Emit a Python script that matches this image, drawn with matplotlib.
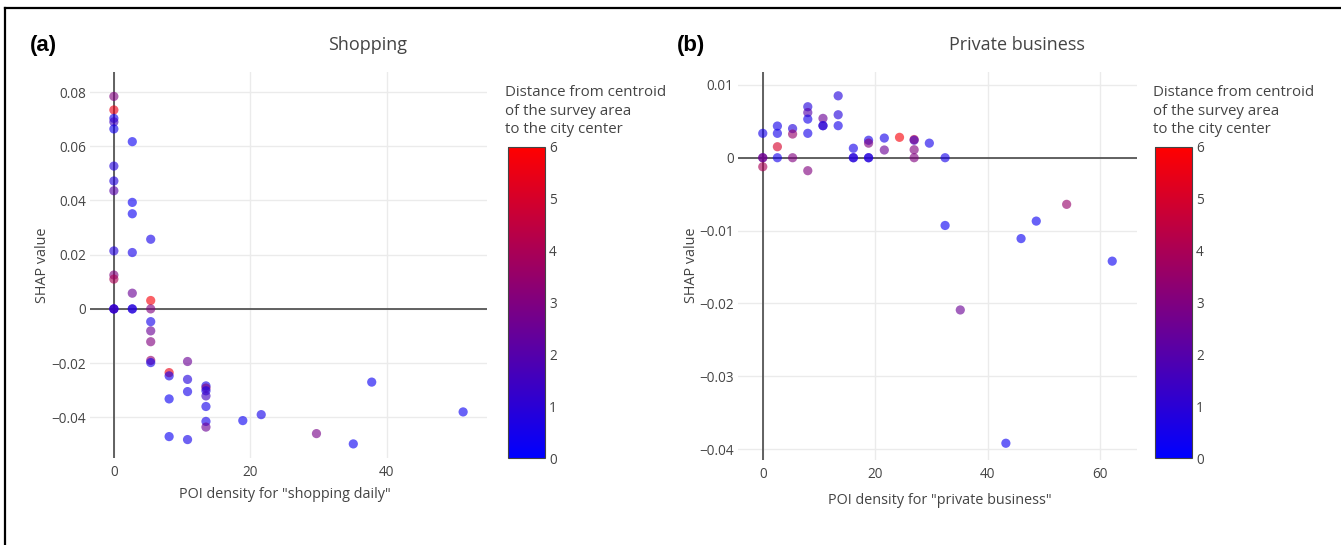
import matplotlib
matplotlib.use("Agg")
import matplotlib.pyplot as plt
import numpy as np
from matplotlib.colors import LinearSegmentedColormap
from matplotlib.lines import Line2D

# ---------------- data ----------------
# Panel (a) Shopping
xa = [0, 0, 0, 0, 0, 0, 0, 0, 0, 0, 0, 0, 0, 0,
      2.7, 2.7, 2.7, 2.7, 2.7, 2.7, 2.7,
      5.4, 5.4, 5.4, 5.4, 5.4, 5.4, 5.4, 5.4,
      8.1, 8.1, 8.1, 8.1,
      10.8, 10.8, 10.8, 10.8,
      13.5, 13.5, 13.5, 13.5, 13.5, 13.5, 13.5,
      18.9, 21.6, 29.7, 35.1, 37.8, 51.2]
ya = [0.0784, 0.0734, 0.0703, 0.069, 0.0664, 0.0527, 0.0472, 0.0436, 0.0214, 0.0125, 0.011, 0, 0, 0,
      0.0617, 0.0393, 0.0351, 0.0208, 0.0058, 0, 0,
      0.0257, 0.0031, 0, -0.0047, -0.0081, -0.0121, -0.019, -0.0198,
      -0.0235, -0.0247, -0.0332, -0.0471,
      -0.0194, -0.026, -0.0305, -0.0482,
      -0.0284, -0.0292, -0.0302, -0.0321, -0.036, -0.0415, -0.0436,
      -0.0412, -0.039, -0.046, -0.0498, -0.027, -0.038]
ca = [3.0, 5.5, 0.5, 1.5, 0.4, 0.8, 0.8, 2.0, 0.8, 3.0, 4.0, 0.5, 1.0, 1.5,
      0.3, 0.3, 0.3, 0.5, 2.5, 0.5, 1.0,
      0.5, 5.8, 3.0, 0.5, 2.5, 3.0, 3.5, 0.5,
      5.5, 0.5, 0.3, 0.3,
      2.5, 0.8, 0.5, 0.5,
      0.5, 3.0, 0.5, 1.5, 0.5, 0.5, 2.5,
      0.3, 0.5, 2.8, 0.3, 0.3, 0.3]

# Panel (b) Private business
xb = [0, 0, 0, 0,
      2.6, 2.6, 2.6, 2.6,
      5.3, 5.3, 5.3,
      8.0, 8.0, 8.0, 8.0, 8.0,
      10.7, 10.7, 10.7,
      13.4, 13.4, 13.4,
      16.1, 16.1, 16.1,
      18.8, 18.8, 18.8, 18.8,
      21.6, 21.6,
      24.3,
      26.9, 26.9, 26.9, 26.9,
      29.6, 32.4, 32.4, 35.1, 43.2, 45.9, 48.6, 54.0, 62.1]
yb = [0.00335, 0, 0, -0.00124,
      0.00435, 0.00335, 0.00151, 0,
      0.0040, 0.00325, 0,
      0.0070, 0.0062, 0.0053, 0.00335, -0.00178,
      0.0054, 0.0044, 0.0044,
      0.0085, 0.0059, 0.0044,
      0.0013, 0, 0,
      0.0024, 0.0020, 0, 0,
      0.0027, 0.00106,
      0.0028,
      0.0025, 0.0024, 0.0011, 0,
      0.0020, 0, -0.0093, -0.0209, -0.0392, -0.0111, -0.0087, -0.0064, -0.0142]
cb = [0.5, 1.5, 3.0, 4.0,
      0.5, 0.5, 5.0, 0.5,
      0.8, 3.5, 3.0,
      0.8, 2.0, 0.5, 0.5, 3.0,
      2.5, 0.5, 1.2,
      0.8, 0.8, 0.5,
      0.5, 0.5, 1.0,
      0.5, 3.0, 0.5, 1.0,
      0.5, 2.5,
      5.8,
      4.5, 1.5, 3.0, 3.0,
      0.5, 0.5, 0.3, 2.5, 0.3, 0.3, 0.3, 3.5, 0.3]

panel_labels = ["(a)", "(b)"]
titles = ["Shopping", "Private business"]
xlabels = ['POI density for "shopping daily"', 'POI density for "private business"']
ylabel = "SHAP value"
cbar_title = "Distance from centroid\nof the survey area\nto the city center"
cbar_ticks = [0, 1, 2, 3, 4, 5, 6]

xticks_a = [0, 20, 40]
yticks_a = [-0.04, -0.02, 0, 0.02, 0.04, 0.06, 0.08]
yticklabels_a = ["\u22120.04", "\u22120.02", "0", "0.02", "0.04", "0.06", "0.08"]
xticks_b = [0, 20, 40, 60]
yticks_b = [-0.04, -0.03, -0.02, -0.01, 0, 0.01]
yticklabels_b = ["\u22120.04", "\u22120.03", "\u22120.02", "\u22120.01", "0", "0.01"]

# ---------------- style ----------------
W, H = 1341, 545
FONT = "Open Sans"
TXT = "#444444"
cmap = LinearSegmentedColormap.from_list("br", [(0, 0, 1), (1, 0, 0)])

fig = plt.figure(figsize=(W / 100, H / 100), dpi=100)

def box(l, t, r, b):
    return [l / W, 1 - b / H, (r - l) / W, (b - t) / H]

def fx(px):
    return px / W

def fy(py):
    return 1 - py / H

# border lines (left & top)
fig.add_artist(Line2D([fx(5), fx(5)], [fy(8), fy(545)], color="black", lw=1.6))
fig.add_artist(Line2D([fx(5), fx(1341)], [fy(8), fy(8)], color="black", lw=1.6))

panels = [
    dict(x=xa, y=ya, c=ca, ax=box(90, 72, 487, 458), cax=box(508, 147, 545, 458),
         xlim=(-3.5, 54.7), ylim=(-0.055, 0.0874), xt=xticks_a, yt=yticks_a, ytl=yticklabels_a,
         lab=(30, 45), title=(368, 45), xlab=(285, 494), ylab=(42, 265), ctitle=(505, 111)),
    dict(x=xb, y=yb, c=cb, ax=box(738, 72, 1137, 460), cax=box(1155, 147, 1192, 458),
         xlim=(-4.4, 66.5), ylim=(-0.0415, 0.01177), xt=xticks_b, yt=yticks_b, ytl=yticklabels_b,
         lab=(677, 45), title=(1017, 45), xlab=(940, 500), ylab=(692, 265), ctitle=(1153, 111)),
]

for i, p in enumerate(panels):
    ax = fig.add_axes(p["ax"])
    ax.set_xlim(*p["xlim"])
    ax.set_ylim(*p["ylim"])
    for s in ax.spines.values():
        s.set_visible(False)
    ax.set_xticks(p["xt"])
    ax.set_xticklabels([str(v) for v in p["xt"]])
    ax.set_yticks(p["yt"])
    ax.set_yticklabels(p["ytl"])
    ax.tick_params(length=0, labelsize=9.8, labelcolor=TXT)
    ax.tick_params(axis="y", pad=3)
    ax.tick_params(axis="x", pad=5)
    for lbl in ax.get_xticklabels() + ax.get_yticklabels():
        lbl.set_fontfamily(FONT)
    ax.grid(True, color="#ebebeb", lw=1.0)
    ax.set_axisbelow(True)
    ax.axhline(0, color="#555555", lw=1.3, zorder=1)
    ax.axvline(0, color="#555555", lw=1.3, zorder=1)
    sc = ax.scatter(p["x"], p["y"], c=p["c"], cmap=cmap, vmin=0, vmax=6, s=44,
                    alpha=0.62, edgecolors="none", zorder=3)

    cax = fig.add_axes(p["cax"])
    cbar = fig.colorbar(sc, cax=cax, ticks=cbar_ticks)
    cbar.solids.set_alpha(1)
    cbar.outline.set_edgecolor(TXT)
    cbar.outline.set_linewidth(0.8)
    cax.tick_params(length=0, labelsize=9.8, labelcolor=TXT, pad=3)
    for lbl in cax.get_yticklabels():
        lbl.set_fontfamily(FONT)

    fig.text(fx(p["ctitle"][0]), fy(p["ctitle"][1]), cbar_title, ha="left", va="center",
             fontsize=10.8, color=TXT, family=FONT, linespacing=1.32)
    fig.text(fx(p["lab"][0]), fy(p["lab"][1]), panel_labels[i], ha="left", va="center",
             fontsize=16, fontweight="bold", family="Liberation Sans", color="black")
    fig.text(fx(p["title"][0]), fy(p["title"][1]), titles[i], ha="center", va="center",
             fontsize=13, color=TXT, family=FONT)
    fig.text(fx(p["xlab"][0]), fy(p["xlab"][1]), xlabels[i], ha="center", va="center",
             fontsize=10.4, color=TXT, family=FONT)
    fig.text(fx(p["ylab"][0]), fy(p["ylab"][1]), ylabel, ha="center", va="center",
             fontsize=10.4, color=TXT, family=FONT, rotation=90)

fig.savefig("out.png", dpi=100, facecolor="white")
